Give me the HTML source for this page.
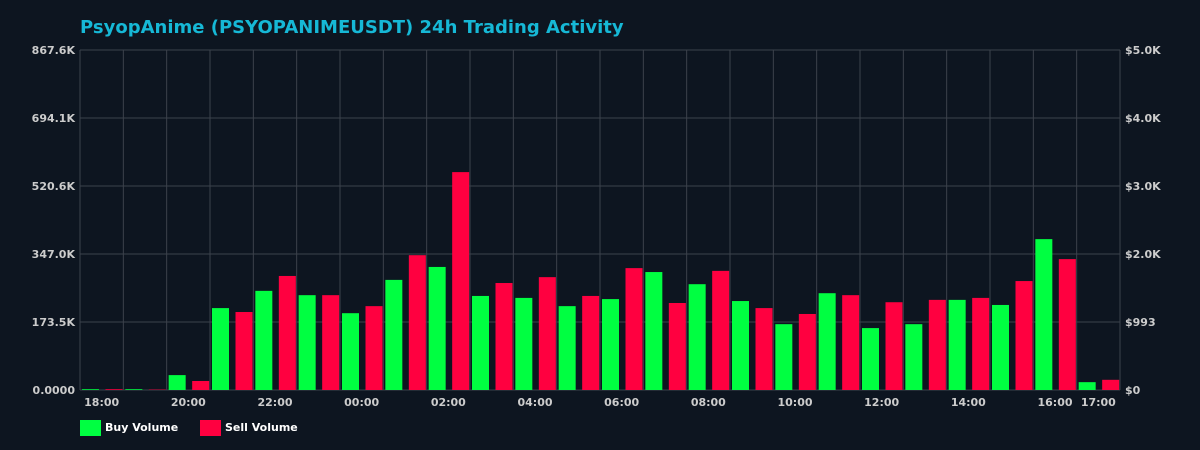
<!DOCTYPE html>
<html><head><meta charset="utf-8">
<style>
html,body{margin:0;padding:0;background:#0d1520;}
svg{display:block;font-family:"DejaVu Sans","Liberation Sans",sans-serif;}
</style></head>
<body>
<svg id="chart" width="1200" height="450" viewBox="0 0 1200 450">
<rect x="0" y="0" width="1200" height="450" fill="#0d1520"/>
<text x="80" y="33" fill="#16b8d6" font-size="18" font-weight="bold">PsyopAnime (PSYOPANIMEUSDT) 24h Trading Activity</text>
<g id="grid"></g>
<g id="bars"></g>
<g id="axes"></g>
<g>
  <rect x="80" y="420" width="21" height="16" fill="#00ff41"/>
  <text x="105" y="431" fill="#ffffff" font-size="11" font-weight="bold">Buy Volume</text>
  <rect x="200" y="420" width="21" height="16" fill="#ff0040"/>
  <text x="225" y="431" fill="#ffffff" font-size="11" font-weight="bold">Sell Volume</text>
</g>
</svg>
<script>
const hours = ["18:00","19:00","20:00","21:00","22:00","23:00","00:00","01:00","02:00","03:00","04:00","05:00","06:00","07:00","08:00","09:00","10:00","11:00","12:00","13:00","14:00","15:00","16:00","17:00"];
const hourLabels = ["18:00","","20:00","","22:00","","00:00","","02:00","","04:00","","06:00","","08:00","","10:00","","12:00","","14:00","","16:00","17:00"];
const buyVolume = [2,2,38,209,253,242,196,281,314,240,235,214,232,301,270,227,168,247,158,168,230,217,385,20];
const sellVolume = [2,1,23,199,291,242,214,344,556,273,288,240,311,222,304,209,194,242,224,230,235,278,334,26];
const leftTicks = ["0.0000","173.5K","347.0K","520.6K","694.1K","867.6K"];
const rightTicks = ["$0","$993","$2.0K","$3.0K","$4.0K","$5.0K"];
const yMax = 867.6;

const NS="http://www.w3.org/2000/svg";
const X0=80,X1=1120,Y0=390,Y1=50;
const slot=(X1-X0)/hours.length;
const y=v=>Y0-(v/yMax)*(Y0-Y1);
const xs=i=>X0+i*slot;
function mk(tag,attrs,parent){const e=document.createElementNS(NS,tag);for(const k in attrs)e.setAttribute(k,attrs[k]);document.getElementById(parent).appendChild(e);return e;}

for(let i=0;i<leftTicks.length;i++){
  const yy=Y0-i*(Y0-Y1)/(leftTicks.length-1);
  const l=mk("line",{x1:X0,x2:X1,y1:yy,y2:yy,stroke:"#3c424c","stroke-width":1},"grid");
  
  
  const t=mk("text",{x:X0-5,y:yy+4,"text-anchor":"end",fill:"#cccccc","font-size":"11","font-weight":"bold"},"axes");
  t.textContent=leftTicks[i];
  
  
  const r=mk("text",{x:X1+5,y:yy+4,"text-anchor":"start",fill:"#cccccc","font-size":"11","font-weight":"bold"},"axes");
  r.textContent=rightTicks[i];
  
  
}
for(let i=0;i<=hours.length;i++){
  const xx=xs(i);
  const l=mk("line",{x1:xx,x2:xx,y1:Y1,y2:Y0,stroke:"#3c424c","stroke-width":1},"grid");
  
  
}
for(let i=0;i<hours.length;i++){
  const bx=xs(i);
  const g=mk("rect",{x:bx+2,y:y(buyVolume[i]),width:17,height:Y0-y(buyVolume[i]),fill:"#00ff41"},"bars");
  
  
  const r=mk("rect",{x:bx+25.5,y:y(sellVolume[i]),width:17,height:Y0-y(sellVolume[i]),fill:"#ff0040"},"bars");
  
  
  if(hourLabels[i]){
    const t=mk("text",{x:bx+slot/2,y:406,"text-anchor":"middle",fill:"#cccccc","font-size":"11","font-weight":"bold"},"axes");
    t.textContent=hourLabels[i];
    
    
  }
}
</script>
</body></html>
